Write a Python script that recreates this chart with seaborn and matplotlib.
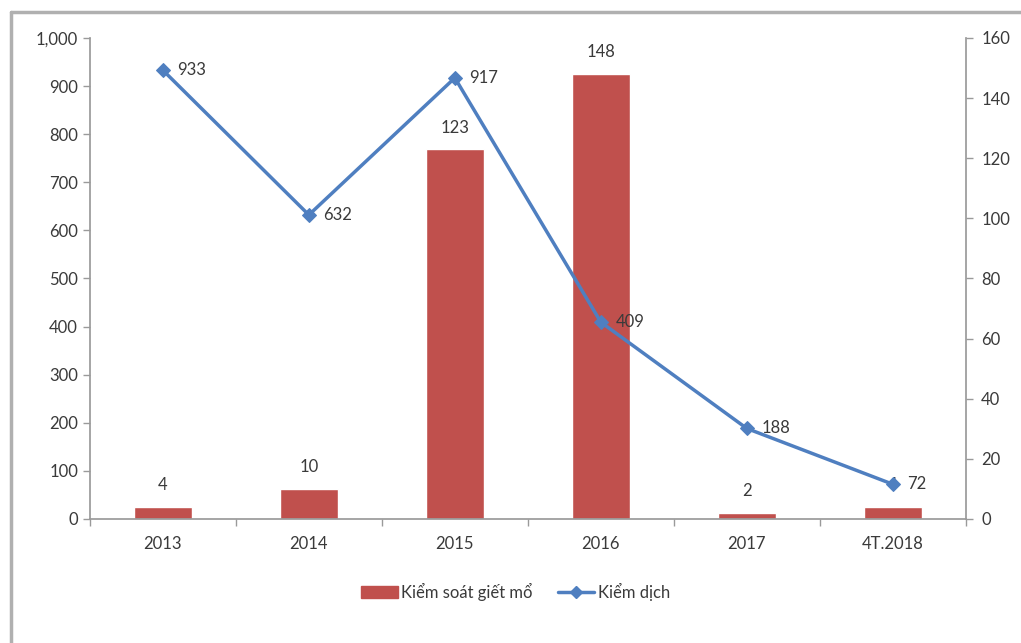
import matplotlib
matplotlib.use("Agg")
import matplotlib.pyplot as plt
from matplotlib.lines import Line2D
from matplotlib.patches import Patch
import seaborn as sns
import pandas as pd

categories = ["2013", "2014", "2015", "2016", "2017", "4T.2018"]
kiem_soat_giet_mo = [4, 10, 123, 148, 2, 4]
kiem_dich = [933, 632, 917, 409, 188, 72]

bar_label = "Kiểm soát giết mổ"
line_label = "Kiểm dịch"

sns.set_theme(style="white")
plt.rcParams["font.family"] = ["Lato", "DejaVu Sans"]

BAR_COLOR = "#C0504D"
LINE_COLOR = "#4F7FC0"
TEXT_COLOR = "#3a3a3a"
AXIS_COLOR = "#9a9a9a"
FS = 12

df = pd.DataFrame({"cat": categories, "bars": kiem_soat_giet_mo, "line": kiem_dich})

fig = plt.figure(figsize=(10.21, 6.43), dpi=100)
ax1 = fig.add_axes([0.088, 0.193, 0.858, 0.748])
ax2 = ax1.twinx()

# bars on the right-hand scale
sns.barplot(data=df, x="cat", y="bars", ax=ax2, color=BAR_COLOR, width=0.4,
            saturation=1, order=categories)
for i, v in enumerate(kiem_soat_giet_mo):
    ax2.text(i, v + 4.5, f"{v}", ha="center", va="bottom", fontsize=FS, color=TEXT_COLOR)

# line on the left-hand scale, drawn above the bars
sns.lineplot(data=df, x="cat", y="line", ax=ax1, color=LINE_COLOR, linewidth=2.5,
             marker="D", markersize=7, markeredgecolor=LINE_COLOR, sort=False)
for i, v in enumerate(kiem_dich):
    ax1.text(i + 0.1, v, f"{v}", ha="left", va="center", fontsize=FS, color=TEXT_COLOR)

ax1.set_zorder(ax2.get_zorder() + 1)
ax1.patch.set_visible(False)

ax1.set_ylim(0, 1000)
ax1.set_yticks(range(0, 1001, 100))
ax1.set_yticklabels([f"{t:,}" for t in range(0, 1001, 100)])
ax2.set_ylim(0, 160)
ax2.set_yticks(range(0, 161, 20))
ax1.set_xlim(-0.5, len(categories) - 0.5)

for ax in (ax1, ax2):
    ax.set_xlabel("")
    ax.set_ylabel("")
    for s in ax.spines.values():
        s.set_visible(False)
    ax.tick_params(axis="y", labelsize=FS, labelcolor=TEXT_COLOR, color=AXIS_COLOR,
                   length=5, width=1)

ax1.spines["left"].set_visible(True)
ax1.spines["left"].set_color(AXIS_COLOR)
ax1.spines["bottom"].set_visible(True)
ax1.spines["bottom"].set_color(AXIS_COLOR)
ax2.spines["right"].set_visible(True)
ax2.spines["right"].set_color(AXIS_COLOR)
ax1.tick_params(axis="y", left=True, right=False)
ax2.tick_params(axis="y", right=True, left=False, pad=6)

ax1.set_xticks(range(len(categories)))
ax1.set_xticklabels(categories)
ax1.set_xticks([i - 0.5 for i in range(len(categories) + 1)], minor=True)
ax1.tick_params(axis="x", which="major", length=0, labelsize=FS, labelcolor=TEXT_COLOR, pad=12)
ax1.tick_params(axis="x", which="minor", length=5, color=AXIS_COLOR, bottom=True)

handles = [
    Patch(facecolor=BAR_COLOR, edgecolor=BAR_COLOR, label=bar_label),
    Line2D([0], [0], color=LINE_COLOR, linewidth=2.5, marker="D", markersize=6,
           label=line_label),
]
fig.legend(handles=handles, loc="center", bbox_to_anchor=(0.505, 0.08), ncol=2,
           frameon=False, fontsize=FS, handlelength=2.2, handletextpad=0.2,
           columnspacing=1.5, labelcolor=TEXT_COLOR)

# chart area outline
fig.add_artist(Line2D([0.011, 1.0], [0.981, 0.981], transform=fig.transFigure,
                      color="#b0b0b0", linewidth=2.5))
fig.add_artist(Line2D([0.011, 0.011], [0.0, 0.981], transform=fig.transFigure,
                      color="#b0b0b0", linewidth=2.5))

fig.savefig("out.png", dpi=100)
